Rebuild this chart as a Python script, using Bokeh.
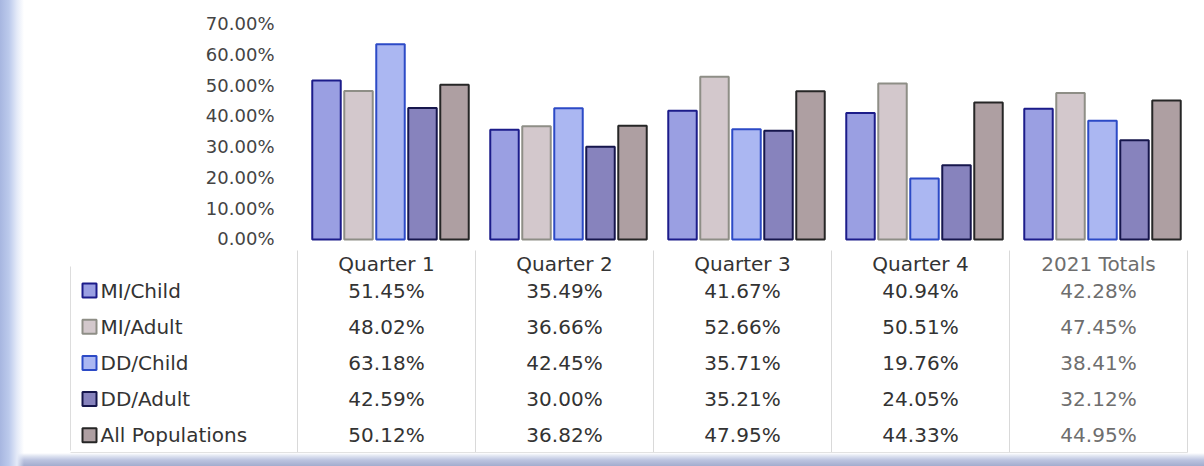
from bokeh.plotting import figure
from bokeh.layouts import column
from bokeh.models import (ColumnDataSource, FactorRange, Range1d, FixedTicker,
                          PrintfTickFormatter)
from bokeh.core.properties import value
from bokeh.embed import file_html
from bokeh.resources import INLINE

# ---- data -------------------------------------------------------------
quarters = ["Quarter 1", "Quarter 2", "Quarter 3", "Quarter 4", "2021 Totals"]
series = ["MI/Child", "MI/Adult", "DD/Child", "DD/Adult", "All Populations"]

mi_child = [51.45, 35.49, 41.67, 40.94, 42.28]
mi_adult = [48.02, 36.66, 52.66, 50.51, 47.45]
dd_child = [63.18, 42.45, 35.71, 19.76, 38.41]
dd_adult = [42.59, 30.00, 35.21, 24.05, 32.12]
all_pop = [50.12, 36.82, 47.95, 44.33, 44.95]

y_ticks = [0, 10, 20, 30, 40, 50, 60, 70]

values_by_series = [mi_child, mi_adult, dd_child, dd_adult, all_pop]

# ---- styling ----------------------------------------------------------
fills = ["#9a9fe2", "#d3c8cc", "#abb7f2", "#8783bd", "#ae9fa2"]
edges = ["#1c1c8a", "#8e8e86", "#2c4ac6", "#16164c", "#262626"]
FONT = "DejaVu Sans"

W = 1204
TOP_H = 248
BOT_H = 466 - TOP_H
COL_PX = 178.0          # width of one quarter column in pixels
TABLE_X0 = 297.0        # left edge of the first quarter column
ROW0_PX = 290.0         # first data row centre (page px)
ROW_PX = 36.2           # row pitch

# ---- bar chart ----------------------------------------------------------
gp = 0.5625
factors = [(q, s) for q in quarters for s in series]
x_range = FactorRange(*factors, factor_padding=0, group_padding=gp,
                      range_padding=gp / 2, range_padding_units="absolute")

bars = dict(x=[], top=[], fill=[], edge=[])
for si, s in enumerate(series):
    for qi, q in enumerate(quarters):
        bars["x"].append((q, s))
        bars["top"].append(values_by_series[si][qi])
        bars["fill"].append(fills[si])
        bars["edge"].append(edges[si])
bar_src = ColumnDataSource(bars)

zero_px = 239.0
px_per_unit = 3.09
frame_bottom = TOP_H - 4
top = figure(width=W, height=TOP_H, x_range=x_range,
             y_range=Range1d(-(frame_bottom - zero_px) / px_per_unit, zero_px / px_per_unit),
             output_backend="svg", toolbar_location=None,
             x_axis_location=None, min_border_left=301, min_border_right=13,
             min_border_top=0, min_border_bottom=4)
top.frame_align = False
top.outline_line_color = None
top.grid.visible = False
top.background_fill_color = "white"
top.border_fill_alpha = 0

top.vbar(x="x", top="top", width=0.89, bottom=0, source=bar_src,
         fill_color="fill", line_color="edge", line_width=2)

ya = top.yaxis[0]
ya.ticker = FixedTicker(ticks=y_ticks)
ya.formatter = PrintfTickFormatter(format="%.2f%%")
ya.axis_line_color = None
ya.major_tick_line_color = None
ya.minor_tick_line_color = None
ya.major_label_standoff = 21
ya.major_label_text_font = FONT
ya.major_label_text_font_size = "18px"
ya.major_label_text_color = "#444444"

# ---- data table ---------------------------------------------------------
def px_to_x(px):
    return (px - TABLE_X0) / COL_PX

def px_to_row(py):
    return (py - ROW0_PX) / ROW_PX

bot = figure(width=W, height=BOT_H,
             x_range=Range1d(px_to_x(0), px_to_x(W)),
             y_range=Range1d(px_to_row(466), px_to_row(TOP_H)),
             output_backend="svg", toolbar_location=None,
             x_axis_location=None, y_axis_location=None,
             min_border=0)
bot.frame_align = False
bot.outline_line_color = None
bot.grid.visible = False
bot.background_fill_alpha = 0
bot.border_fill_alpha = 0

# grid lines
grid_x = [float(i) for i in range(len(quarters) + 1)]
bot.segment(x0=grid_x, x1=grid_x, y0=[px_to_row(250)] * len(grid_x),
            y1=[px_to_row(452)] * len(grid_x), line_color="#d9d9d9", line_width=1)
bot.segment(x0=[px_to_x(70)], x1=[px_to_x(70)], y0=[px_to_row(266)], y1=[px_to_row(450)],
            line_color="#dddddd", line_width=1)
bot.segment(x0=[px_to_x(70)], x1=[float(len(quarters))], y0=[px_to_row(452)],
            y1=[px_to_row(452)], line_color="#e2e2e2", line_width=1)

centres = [i + 0.5 for i in range(len(quarters))]
head_colors = ["#333333"] * 4 + ["#6e6e6e"]
bot.text(x=centres, y=[px_to_row(263)] * len(quarters), text=quarters,
         text_align="center", text_baseline="middle", text_font=value(FONT),
         text_font_size="20px", text_color=head_colors)

cell = dict(x=[], y=[], text=[], color=[])
for si, vals in enumerate(values_by_series):
    for qi, v in enumerate(vals):
        cell["x"].append(qi + 0.5)
        cell["y"].append(float(si))
        cell["text"].append(f"{v:.2f}%")
        cell["color"].append("#6e6e6e" if qi == len(quarters) - 1 else "#333333")
bot.text(x="x", y="y", text="text", color="color", source=ColumnDataSource(cell),
         text_align="center", text_baseline="middle", text_font=value(FONT),
         text_font_size="20px")

# legend keys and series names
rows = [float(i) for i in range(len(series))]
bot.scatter(x=[px_to_x(89)] * len(series), y=rows, marker="square", size=14,
            fill_color=fills, line_color=edges, line_width=2)
bot.text(x=[px_to_x(100)] * len(series), y=rows, text=series,
         text_align="left", text_baseline="middle", text_font=value(FONT),
         text_font_size="20px", text_color="#333333")

layout = column(top, bot, spacing=0)
# scanned page edges along the left and bottom
layout.styles = {
    "background": (
        "linear-gradient(to right, #a7b6e0 0px, #bccaec 9px, #e4eaf8 17px, "
        "rgba(255,255,255,0) 24px), "
        "linear-gradient(to top, #a2acce 0px, #bcc4e0 6px, #dfe4f1 10px, "
        "rgba(255,255,255,0) 13px), #ffffff"
    ),
}
open("out.html", "w").write(file_html(layout, INLINE))
